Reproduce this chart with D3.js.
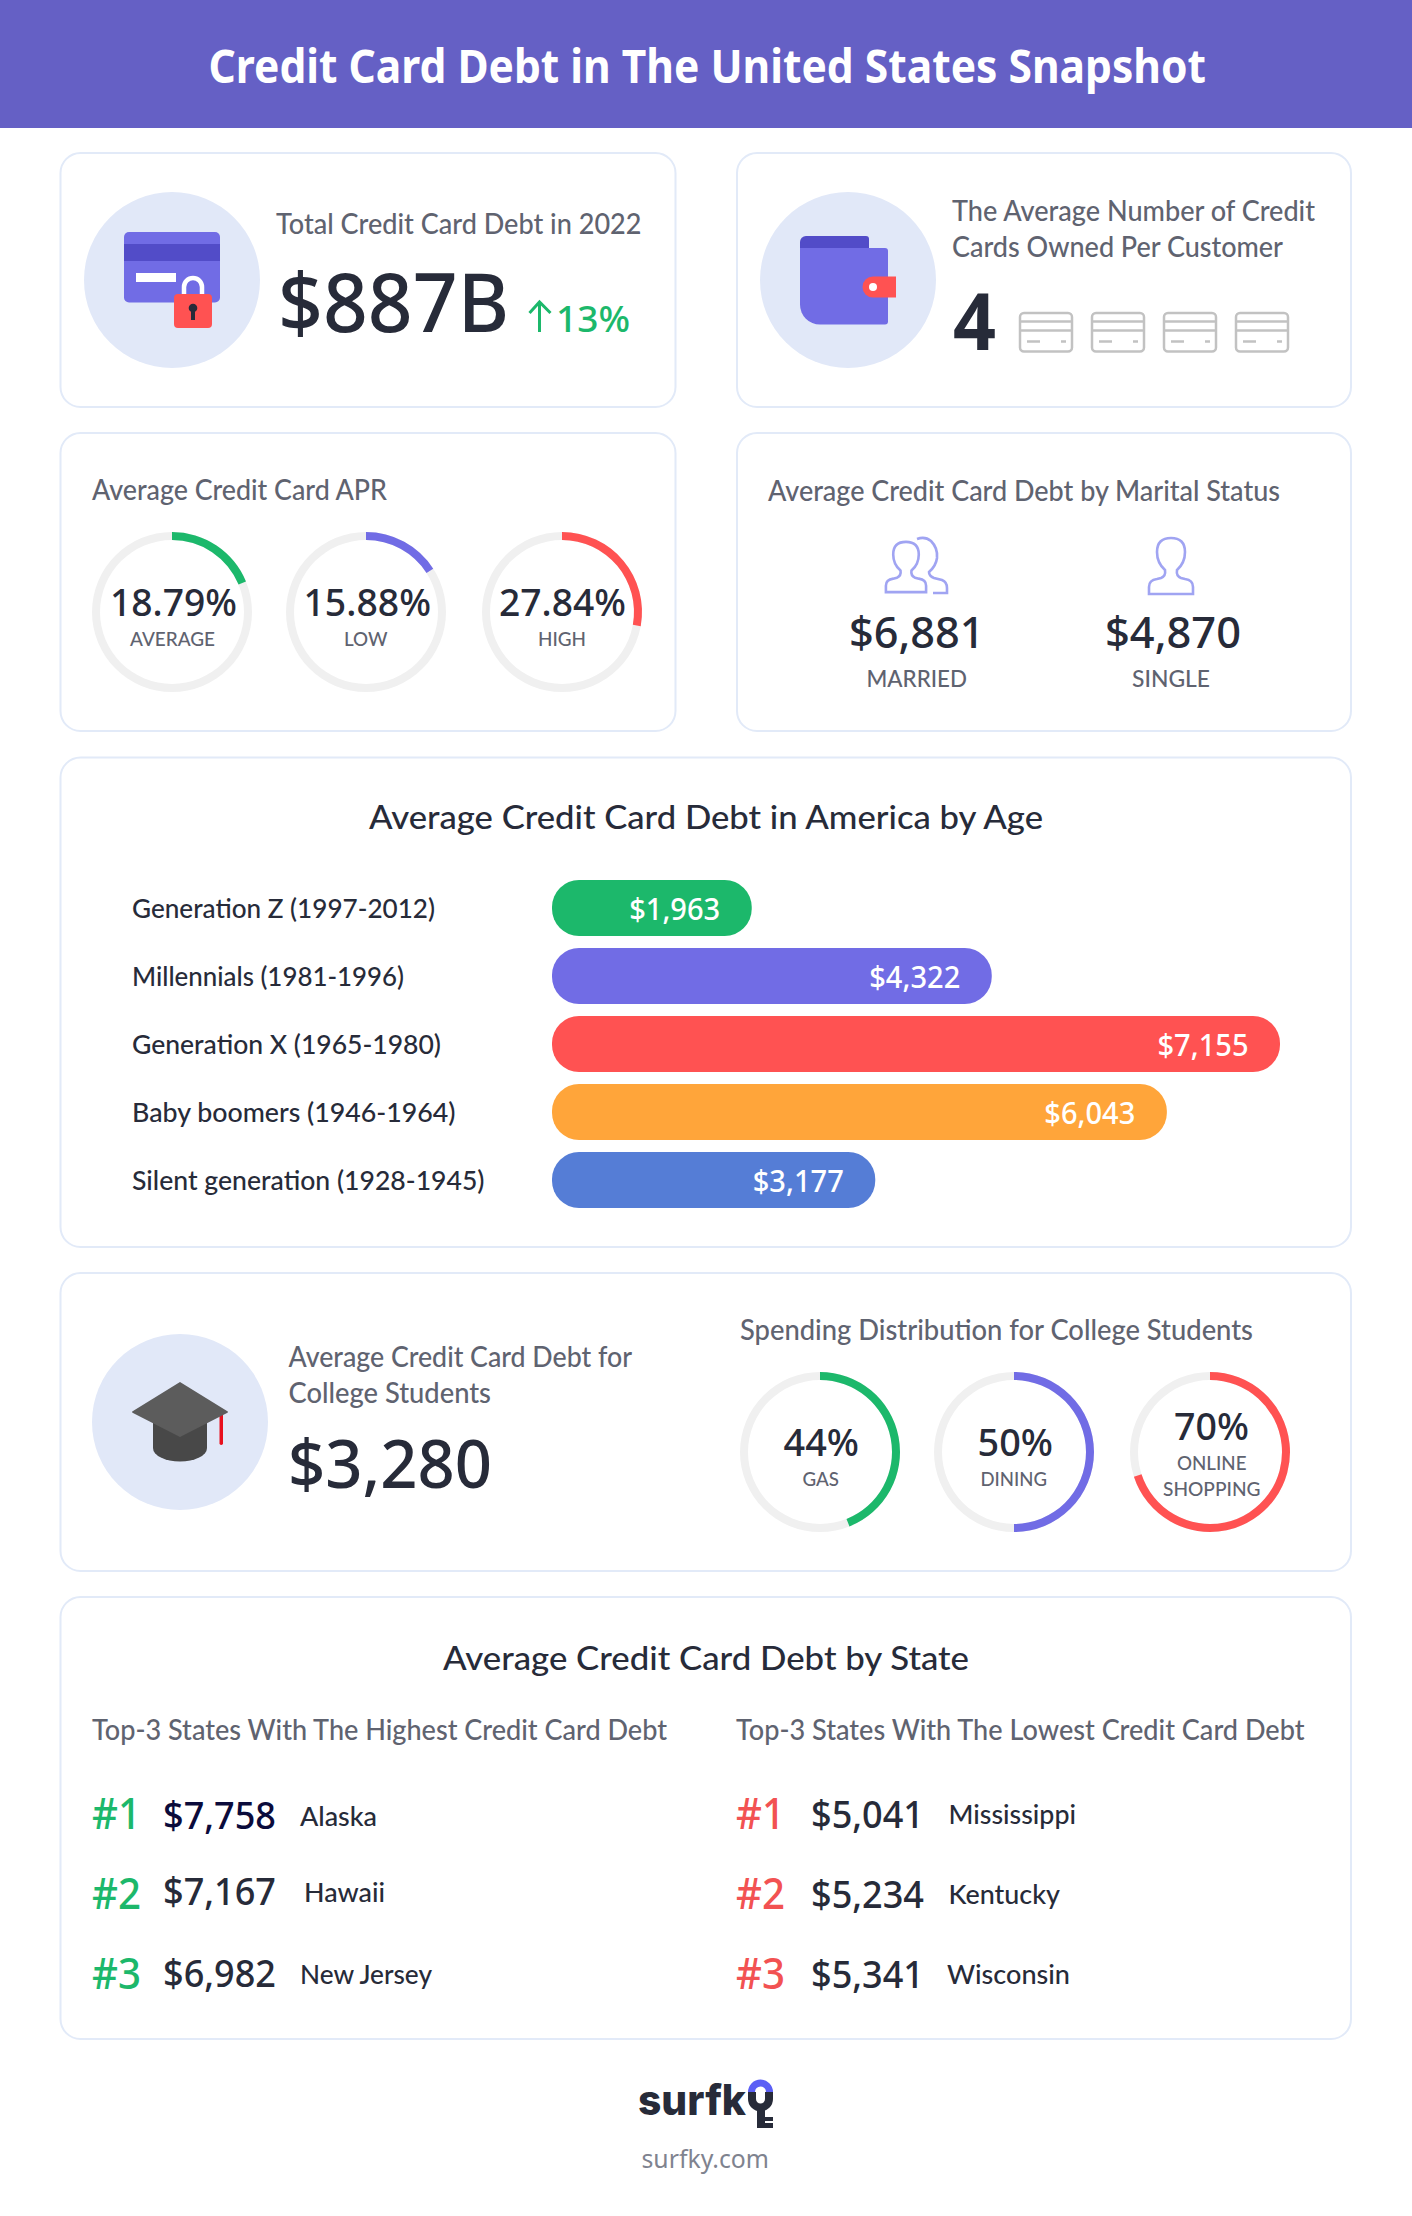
<!DOCTYPE html>
<html><head><meta charset="utf-8">
<style>html,body{margin:0;padding:0;background:#fff}svg{display:block}</style>
<script src="https://cdn.jsdelivr.net/npm/d3@7"></script>
</head><body><div id="c"></div>
<script>
const titleText = "Credit Card Debt in The United States Snapshot";
const totalDebt = "$887B", totalGrowth = "13%";
const cardsOwned = 4;
const aprLabels = ["AVERAGE","LOW","HIGH"];
const aprValues = [18.79,15.88,27.84];
const maritalLabels = ["MARRIED","SINGLE"];
const maritalValues = [6881,4870];
const generations = ["Generation Z (1997-2012)","Millennials (1981-1996)","Generation X (1965-1980)","Baby boomers (1946-1964)","Silent generation (1928-1945)"];
const ageDebt = [1963,4322,7155,6043,3177];
const collegeDebt = 3280;
const spendLabels = [["GAS"],["DINING"],["ONLINE","SHOPPING"]];
const spendValues = [44,50,70];
const highStates = ["Alaska","Hawaii","New Jersey"];
const highDebt = [7758,7167,6982];
const lowStates = ["Mississippi","Kentucky","Wisconsin"];
const lowDebt = [5041,5234,5341];

const C = {head:"#6560C5",dark:"#272B39",grey:"#5F6370",line:"#E2EAF8",disc:"#E1E8F8",green:"#1CB86B",purple:"#716CE5",deep:"#524CC8",red:"#FF5252",orange:"#FFA53A",blue:"#557DD6",track:"#F0F0F0"};
const LABEL="Lato, sans-serif", NUM="'Noto Sans', sans-serif";
const money = d3.format("$,");
const svg = d3.select("#c").append("svg").attr("width",1412).attr("height",2216).attr("viewBox","0 0 1412 2216");

function T(s,x0,x1,y,size,o={}){
  const t = svg.append("text").text(s).attr("x",x0).attr("y",y)
    .attr("font-family",o.font||LABEL).attr("font-size",size).attr("font-weight",o.weight||500)
    .attr("fill",o.fill||C.grey);
  if(x1!=null) t.attr("textLength",x1-x0).attr("lengthAdjust","spacingAndGlyphs");
  return t;
}
function card(x0,x1,y0,y1){svg.append("rect").attr("x",x0).attr("y",y0).attr("width",x1-x0).attr("height",y1-y0).attr("rx",20).attr("fill","#fff").attr("stroke",C.line).attr("stroke-width",2);}
function disc(x,y){svg.append("circle").attr("cx",x).attr("cy",y).attr("r",88).attr("fill",C.disc);}
function R(x,y,w,h,fill,rx=0){return svg.append("rect").attr("x",x).attr("y",y).attr("width",w).attr("height",h).attr("fill",fill).attr("rx",rx);}

// header
R(0,0,1412,128,C.head);
T(titleText,208.5,1206,83,47,{fill:"#fff",weight:700,font:NUM});

// cards
card(60.5,675.5,153,407); card(737,1351,153,407);
card(60.5,675.5,433,731); card(737,1351,433,731);
card(60.5,1351,757.5,1247);
card(60.5,1351,1273,1571);
card(60.5,1351,1597,2039);

// total debt card
disc(172,280);
R(124,232,96,70.5,C.purple,5);
R(124,244,96,17,C.deep);
R(136,273,40,9,"#fff");
svg.append("path").attr("d","M184,296 V287 a9,9 0 0 1 18,0 V296").attr("fill","none").attr("stroke","#fff").attr("stroke-width",4.5);
R(174,294,38,34,C.red,4);
svg.append("circle").attr("cx",193).attr("cy",308).attr("r",4.3).attr("fill",C.dark);
R(191,308,4,12,C.dark);
T("Total Credit Card Debt in 2022",276,641.5,234,28);
T(totalDebt,278,509,332,82,{font:NUM,weight:500,fill:C.dark});
svg.append("path").attr("d","M539.5,332 V302 M529.5,313 L539.5,302 L550.5,313").attr("fill","none").attr("stroke",C.green).attr("stroke-width",3);
T(totalGrowth,556,630,332,36,{font:NUM,fill:C.green,weight:500});

// cards owned card
disc(848,280);
svg.append("path").attr("d","M800,248 V242 a6,6 0 0 1 6,-6 H866 a3,3 0 0 1 3,3 V254 H800 Z").attr("fill",C.deep);
svg.append("path").attr("d","M800,248 H885 a3,3 0 0 1 3,3 V321.5 a3,3 0 0 1 -3,3 H820 a20,20 0 0 1 -20,-20 Z").attr("fill",C.purple);
svg.append("path").attr("d","M896,276.5 V297.5 H873 a10.5,10.5 0 0 1 0,-21 Z").attr("fill",C.red);
svg.append("circle").attr("cx",873).attr("cy",287).attr("r",4).attr("fill","#fff");
T("The Average Number of Credit",952,1315,221,28);
T("Cards Owned Per Customer",952,1283,257,28);
T(String(cardsOwned),953,996,350,78,{font:NUM,weight:700,fill:C.dark});
const cardX = d3.scaleBand().domain(d3.range(cardsOwned)).range([1019,1289]).paddingInner(18/72).paddingOuter(0);
d3.range(cardsOwned).forEach(i=>{
  const x=cardX(i), w=cardX.bandwidth();
  const g=svg.append("g").attr("fill","none").attr("stroke","#C2C2C2").attr("stroke-width",2.5);
  g.append("rect").attr("x",x+1).attr("y",313).attr("width",w-2).attr("height",38.5).attr("rx",4);
  g.append("path").attr("d",`M${x},321.5 H${x+w} M${x},330.5 H${x+w} M${x+8},341.5 H${x+21} M${x+42},341.5 H${x+47}`);
});

// gauges
const angle = d3.scaleLinear().domain([0,100]).range([0,2*Math.PI]);
const arc = d3.arc().innerRadius(72).outerRadius(80);
function gauge(cx,cy,v,color){
  const g=svg.append("g").attr("transform",`translate(${cx},${cy})`);
  g.append("path").attr("d",arc({startAngle:0,endAngle:2*Math.PI})).attr("fill",C.track);
  g.append("path").attr("d",arc({startAngle:0,endAngle:angle(v)})).attr("fill",color);
}
const ringColors=[C.green,C.purple,C.red];
T("Average Credit Card APR",92,387,500,28);
[172,366,562].forEach((cx,i)=>gauge(cx,612,aprValues[i],ringColors[i]));
const aprValX=[[110,237],[303.5,431],[499,626]], aprLabX=[[130,215],[344,387.5],[538,586]];
aprValues.forEach((v,i)=>{
  T(v.toFixed(2)+"%",aprValX[i][0],aprValX[i][1],616,38,{font:NUM,weight:500,fill:C.dark});
  T(aprLabels[i],aprLabX[i][0],aprLabX[i][1],646,20);
});

// marital card
T("Average Credit Card Debt by Marital Status",768,1280,501,28);
const personD="M1,57 H45 V50 Q45,43 37,42 L33,41 Q28,39 29,33 Q37,26 37,15 Q37,1 23,1 Q9,1 9,15 Q9,26 17,33 Q18,39 13,41 L9,42 Q1,43 1,50 Z";
function person(x,y,sx,sy){svg.append("path").attr("d",personD).attr("transform",`translate(${x},${y}) scale(${sx},${sy})`).attr("fill","none").attr("stroke","#A0A4F2").attr("stroke-width",2.6).attr("vector-effect","non-scaling-stroke");}
person(885,541,42/46,52/58); person(1148,537,1,1);
svg.append("path").attr("d","M917,539 Q925,536 931,541 Q938,548 937,558 Q936,566 929,572 Q929,576 934,578 L942,580 Q947,582 947,588 V593 H933").attr("fill","none").attr("stroke","#A0A4F2").attr("stroke-width",2.6);
const marValX=[[849,984.5],[1105,1241]], marLabX=[[866.5,967],[1132,1210]];
maritalValues.forEach((v,i)=>{
  T(money(v),marValX[i][0],marValX[i][1],648,43,{font:NUM,weight:500,fill:C.dark});
  T(maritalLabels[i],marLabX[i][0],marLabX[i][1],687,23);
});

// age bars
T("Average Credit Card Debt in America by Age",369,1043,829,33,{fill:C.dark,weight:500});
const x = d3.scaleLinear().domain([0,d3.max(ageDebt)]).range([552,1280]);
const y = d3.scaleBand().domain(generations).range([874,1214]).paddingInner(12/68).paddingOuter(6/68);
const barColors=[C.green,C.purple,C.red,C.orange,C.blue];
const labRight=[435,404,441,455.5,484.5];
generations.forEach((g,i)=>{
  R(x(0),y(g),x(ageDebt[i])-x(0),y.bandwidth(),barColors[i],27);
  T(g,132,labRight[i],y(g)+y.bandwidth()/2+9.5,27,{fill:C.dark});
  svg.append("text").text(money(ageDebt[i])).attr("x",x(ageDebt[i])-31.5).attr("y",y(g)+y.bandwidth()/2+11.5)
    .attr("text-anchor","end").attr("font-family",NUM).attr("font-size",30).attr("font-weight",500).attr("fill","#fff")
    .attr("textLength",91).attr("lengthAdjust","spacingAndGlyphs");
});

// college card
disc(180,1422);
svg.append("path").attr("d","M153,1415 H207 V1448 A27,13.5 0 0 1 153,1448 Z").attr("fill","#484848");
R(219.5,1410,3.5,35,"#E8101E",1.7);
svg.append("path").attr("d","M180,1382 L227,1411 Q229,1412 227,1413 L180,1437 L133,1413 Q131,1412 133,1411 Z").attr("fill","#5C5C5C");
T("Average Credit Card Debt for",288.5,632,1367,28);
T("College Students",288.5,491,1403,28);
T(money(collegeDebt),288,492,1488,67,{font:NUM,weight:500,fill:C.dark});

T("Spending Distribution for College Students",740,1253,1340,28);
[820,1014,1210].forEach((cx,i)=>gauge(cx,1452,spendValues[i],ringColors[i]));
const spValX=[[783.5,859],[977.5,1053],[1174,1249]], spValY=[1456,1456,1440];
const spLabX=[[[802.5,839]],[[980.5,1047]],[[1177,1246.5],[1163,1260.5]]], spLabY=[[1486],[1486],[1470,1496]];
spendValues.forEach((v,i)=>{
  T(v+"%",spValX[i][0],spValX[i][1],spValY[i],38,{font:NUM,weight:500,fill:C.dark});
  spendLabels[i].forEach((l,j)=>T(l,spLabX[i][j][0],spLabX[i][j][1],spLabY[i][j],20));
});

// state card
T("Average Credit Card Debt by State",443,969,1670,33,{fill:C.dark,weight:500});
T("Top-3 States With The Highest Credit Card Debt",92,667,1740,28);
T("Top-3 States With The Lowest Credit Card Debt",736,1304.5,1740,28);
const rankY=[1829,1909,1989];
const hiValY=[1829,1905,1987], hiPlY=[1826,1902,1984], hiPlX=[[300,377],[304,385],[300,432]];
const loValY=[1828,1908,1988], loPlY=[1824,1904,1984], loPlX=[[948.5,1076],[948.5,1060],[947,1070]];
highStates.forEach((s,i)=>{
  T("#"+(i+1),92,141,rankY[i],43,{font:NUM,weight:500,fill:C.green});
  T(money(highDebt[i]),163,276,hiValY[i],38,{font:NUM,weight:500,fill:i==0?"#0B0B3B":C.dark});
  T(s,hiPlX[i][0],hiPlX[i][1],hiPlY[i],27,{fill:C.dark});
});
lowStates.forEach((s,i)=>{
  T("#"+(i+1),736,785,rankY[i],43,{font:NUM,weight:500,fill:"#F25252"});
  T(money(lowDebt[i]),811,924,loValY[i],38,{font:NUM,weight:500,fill:C.dark});
  T(s,loPlX[i][0],loPlX[i][1],loPlY[i],27,{fill:C.dark});
});

// footer logo
T("surfk",638,746,2115,42,{font:"Inter, sans-serif",weight:800,fill:C.dark});
svg.append("path").attr("d","M752,2092 V2099 a8.5,8.5 0 0 0 17,0 V2092").attr("fill","none").attr("stroke",C.dark).attr("stroke-width",8);
R(757,2106,8,22,C.dark);
R(765,2117,8,4,C.dark); R(765,2123,8,5,C.dark);
svg.append("path").attr("d","M751.5,2092 a9,9 0 0 1 18,0").attr("fill","none").attr("stroke","#5B5FF5").attr("stroke-width",7);
T("surfky.com",641.5,769,2168,26,{font:NUM,weight:400,fill:"#7F838F"});
</script></body></html>
